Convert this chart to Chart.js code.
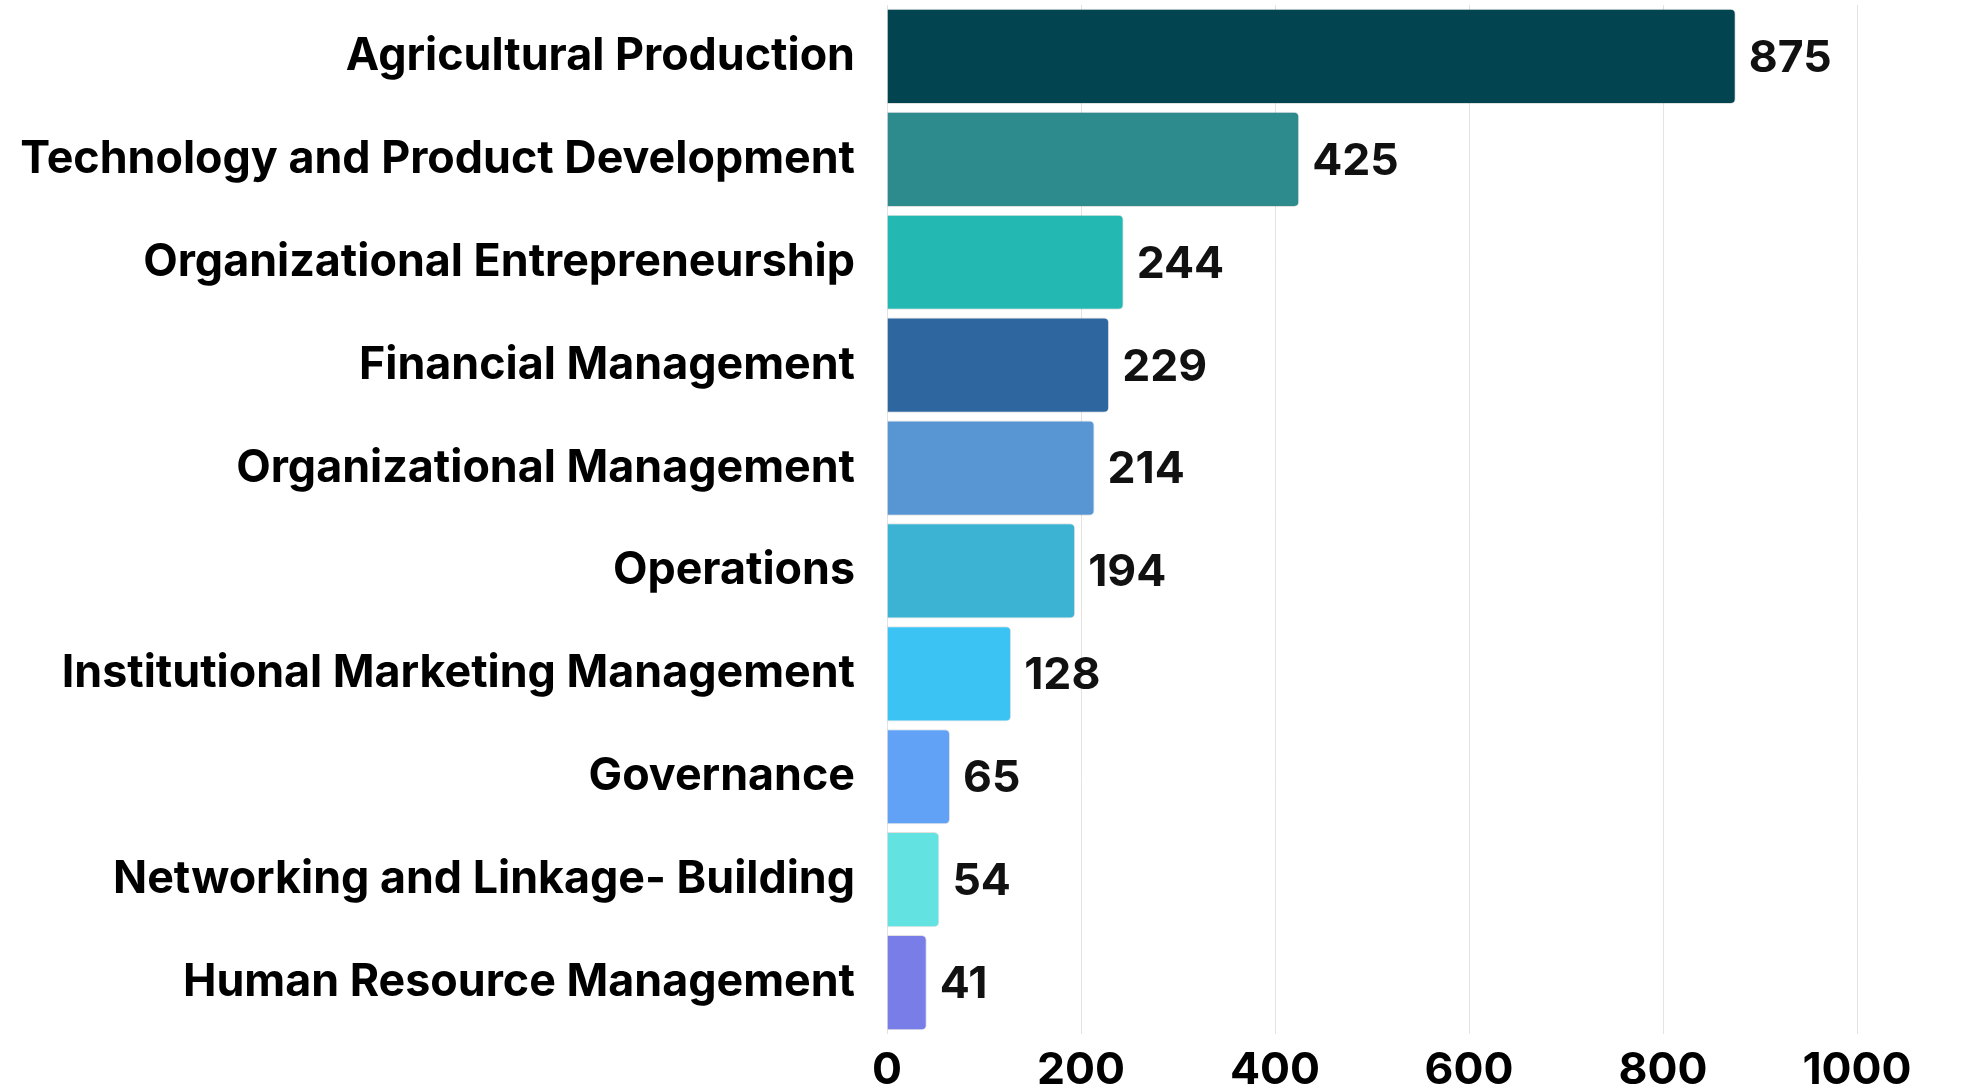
<!DOCTYPE html>
<html>
<head>
<meta charset="utf-8">
<script src="https://cdn.jsdelivr.net/npm/chart.js@4/dist/chart.umd.min.js"></script>
<style>
  html, body { margin: 0; padding: 0; background: #ffffff; }
  #wrap { position: relative; width: 1964px; height: 1090px; }
</style>
</head>
<body>
<div id="wrap"><canvas id="c" width="1964" height="1090"></canvas></div>
<script>
const categories = [
  "Agricultural Production",
  "Technology and Product Development",
  "Organizational Entrepreneurship",
  "Financial Management",
  "Organizational Management",
  "Operations",
  "Institutional Marketing Management",
  "Governance",
  "Networking and Linkage- Building",
  "Human Resource Management"
];
const values = [875, 425, 244, 229, 214, 194, 128, 65, 54, 41];
const barColors = [
  "#02444f", "#2d8b8e", "#23b8b1", "#2e67a0", "#5795d3",
  "#3cb3d2", "#3bc3f3", "#62a2f6", "#63e2e2", "#797de8"
];
const xTicks = [0, 200, 400, 600, 800, 1000];

const FONT = "Inter, 'Noto Sans', sans-serif";

const valueLabels = {
  id: 'valueLabels',
  afterDatasetsDraw(chart) {
    const ctx = chart.ctx;
    const meta = chart.getDatasetMeta(0);
    ctx.save();
    ctx.font = "bold 44.5px " + FONT;
    ctx.fillStyle = "#111111";
    ctx.textAlign = "left";
    ctx.textBaseline = "middle";
    meta.data.forEach((bar, i) => {
      ctx.fillText(String(values[i]), bar.x + 13, bar.y + 2);
    });
    ctx.restore();
  }
};

new Chart(document.getElementById('c'), {
  type: 'bar',
  data: {
    labels: categories,
    datasets: [{
      data: values,
      backgroundColor: barColors,
      borderColor: "rgba(0,0,0,0.12)",
      borderWidth: 1,
      borderRadius: 5,
      borderSkipped: 'start',
      barPercentage: 0.925,
      categoryPercentage: 1.0
    }]
  },
  options: {
    indexAxis: 'y',
    responsive: false,
    animation: false,
    devicePixelRatio: 1,
    layout: { padding: { top: 5, right: 107, left: 0, bottom: 0 } },
    plugins: {
      legend: { display: false },
      tooltip: { enabled: false }
    },
    scales: {
      x: {
        min: 0,
        max: 1000,
        afterBuildTicks(scale) { scale.ticks = xTicks.map(v => ({ value: v })); },
        afterFit(scale) {
          scale.height = 56;
          scale.paddingLeft = 0;
          scale.paddingRight = 0;
        },
        grid: { color: "#e3e3e3", lineWidth: 1, drawTicks: false },
        border: { display: false },
        ticks: {
          color: "#000000",
          font: { family: FONT, size: 44.5, weight: 'bold' },
          padding: 10,
          callback: (v) => String(v)
        }
      },
      y: {
        grid: { display: false, drawTicks: false },
        border: { display: false },
        afterFit(scale) {
          scale.width = 887;
          scale.paddingTop = 0;
          scale.paddingBottom = 0;
        },
        ticks: {
          color: "#000000",
          font: { family: FONT, size: 44.8, weight: 'bold' },
          padding: 32
        }
      }
    }
  },
  plugins: [valueLabels]
});
</script>
</body>
</html>
